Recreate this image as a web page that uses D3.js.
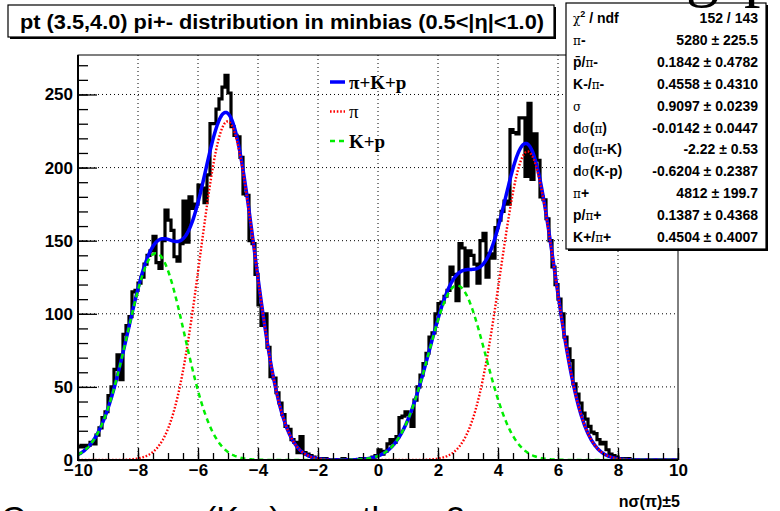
<!DOCTYPE html>
<html>
<head>
<meta charset="utf-8">
<script src="https://cdn.jsdelivr.net/npm/d3@7"></script>
<style>
  body { margin: 0; background: #fff; }
  svg { display: block; font-family: "Liberation Sans", Arial, Helvetica, sans-serif; }
</style>
</head>
<body>
<svg id="chart" width="780" height="511"></svg>
<script>
// ---- histogram: nσ(π)±5, 200 bins of 0.1 from -10 to 10 ----
const histLow = -10;
const histBinWidth = 0.1;
const histCounts = [
  9, 10, 9, 10, 12, 11, 17, 22, 29, 33, 44, 50, 62, 72, 55, 86, 92, 98, 115, 116,
  121, 125, 134, 140, 143, 153, 135, 131, 150, 171, 164, 157, 139, 136, 148, 177, 149, 180, 172, 175,
  188, 186, 176, 195, 230, 230, 240, 247, 255, 263, 251, 228, 222, 221, 207, 182, 181, 150, 148, 127,
  106, 92, 100, 77, 57, 56, 46, 39, 31, 23, 21, 14, 12, 5, 16, 5, 4, 3, 2, 1,
  1, 0, 1, 0, 0, 0, 0, 0, 1, 0, 0, 0, 0, 0, 1, 0, 1, 1, 2, 3,
  7, 4, 6, 11, 14, 12, 16, 29, 30, 33, 31, 23, 41, 50, 58, 66, 73, 84, 87, 100,
  107, 108, 112, 116, 132, 127, 109, 148, 145, 119, 143, 140, 134, 121, 150, 155, 125, 141, 138, 159,
  164, 170, 177, 175, 226, 224, 223, 234, 234, 194, 244, 192, 223, 205, 180, 178, 165, 150, 132, 120,
  110, 100, 84, 76, 68, 52, 45, 39, 32, 28, 23, 19, 18, 14, 11, 12, 7, 4, 3, 2,
  1, 1, 0, 1, 0, 0, 0, 0, 0, 0, 0, 0, 0, 0, 0, 0, 0, 0, 0, 0
];

// ---- fit result ----
const fitChi2 = 152;
const fitNdf = 143;
const paramLabels = ["π-", "p̄/π-", "K-/π-", "σ", "dσ(π)", "dσ(π-K)", "dσ(K-p)", "π+", "p/π+", "K+/π+"];
const paramValues = [5280, 0.1842, 0.4558, 0.9097, -0.0142, -2.22, -0.6204, 4812, 0.1387, 0.4504];
const paramErrors = [225.5, 0.4782, 0.4310, 0.0239, 0.0447, 0.53, 0.2387, 199.7, 0.4368, 0.4007];
const valueDigits = [0, 4, 4, 4, 4, 2, 4, 0, 4, 4];
const errorDigits = [1, 4, 4, 4, 4, 2, 4, 1, 4, 4];

// ---- axes ----
const xDomain = [-10, 10];
const yDomain = [0, 277];
const xMajorTicks = [-10, -8, -6, -4, -2, 0, 2, 4, 6, 8, 10];
const yMajorTicks = [0, 50, 100, 150, 200, 250];
const titleText = "pt (3.5,4.0) pi+- distribution in minbias (0.5<|η|<1.0)";
const xAxisTitle = "nσ(π)±5";
const legendLabels = ["π+K+p", "π", "K+p"];

const svg = d3.select("#chart");
const W = 780, H = 511;
const frame = { left: 78, right: 678, top: 55, bottom: 460 };

svg.append("rect").attr("width", W).attr("height", H).attr("fill", "#fff");

const x = d3.scaleLinear().domain(xDomain).range([frame.left, frame.right]);
const y = d3.scaleLinear().domain(yDomain).range([frame.bottom, frame.top]);

svg.append("defs").append("clipPath").attr("id", "frameClip")
  .append("rect")
  .attr("x", frame.left).attr("y", frame.top - 2)
  .attr("width", frame.right - frame.left).attr("height", frame.bottom - frame.top + 2);

// ---- grid ----
const grid = svg.append("g").attr("stroke", "#000").attr("stroke-width", 1)
  .attr("stroke-dasharray", "1,3").attr("fill", "none");
xMajorTicks.filter(v => v > xDomain[0] && v < xDomain[1]).forEach(v => {
  grid.append("line").attr("x1", x(v)).attr("x2", x(v))
    .attr("y1", frame.top).attr("y2", frame.bottom);
});
yMajorTicks.filter(v => v > 0).forEach(v => {
  grid.append("line").attr("x1", frame.left).attr("x2", frame.right)
    .attr("y1", y(v)).attr("y2", y(v));
});

// ---- fit functions ----
const [Nm, pRm, kRm, sigma, dPi, dPiK, dKp, Np, pRp, kRp] = paramValues;
const norm = histBinWidth / (sigma * Math.sqrt(2 * Math.PI));
const gauss = (v, mu, amp) => amp * Math.exp(-((v - mu) ** 2) / (2 * sigma * sigma));
const sides = [
  { offset: -5, N: Nm, pR: pRm, kR: kRm },
  { offset: 5, N: Np, pR: pRp, kR: kRp }
];
function pionPart(v) {
  return d3.sum(sides, s => gauss(v, s.offset + dPi, s.N * norm));
}
function kpPart(v) {
  return d3.sum(sides, s => {
    const muK = s.offset + dPi + dPiK;
    const muP = muK + dKp;
    return gauss(v, muK, s.N * s.kR * norm) + gauss(v, muP, s.N * s.pR * norm);
  });
}
const totalFit = v => pionPart(v) + kpPart(v);
const sampleV = d3.range(xDomain[0], xDomain[1] + 1e-9, 0.025);

// ---- histogram ----
const histPts = histCounts.map((c, i) => [histLow + i * histBinWidth, c]);
histPts.push([histLow + histCounts.length * histBinWidth, histCounts[histCounts.length - 1]]);
const plot = svg.append("g").attr("clip-path", "url(#frameClip)");
plot.append("path")
  .attr("d", d3.line().x(d => x(d[0])).y(d => y(d[1])).curve(d3.curveStepAfter)(histPts))
  .attr("fill", "none").attr("stroke", "#000").attr("stroke-width", 3.2)
  .attr("stroke-linejoin", "miter");

const fitLine = f => d3.line().x(v => x(v)).y(v => y(f(v)))(sampleV);
plot.append("path").attr("d", fitLine(totalFit))
  .attr("fill", "none").attr("stroke", "#0000ff").attr("stroke-width", 3.5);
plot.append("path").attr("d", fitLine(pionPart))
  .attr("fill", "none").attr("stroke", "#ff0000").attr("stroke-width", 2.4)
  .attr("stroke-dasharray", "1.6,1.8");
plot.append("path").attr("d", fitLine(kpPart))
  .attr("fill", "none").attr("stroke", "#00ee00").attr("stroke-width", 2.5)
  .attr("stroke-dasharray", "5,4");

// ---- axes ----
const fmt = d3.format("d");
svg.append("g").attr("transform", `translate(${frame.left},0)`)
  .call(d3.axisLeft(y).tickValues(yMajorTicks).tickSize(-19).tickPadding(5).tickFormat(fmt));
svg.append("g").attr("class", "minor").attr("transform", `translate(${frame.left},0)`)
  .call(d3.axisLeft(y).tickValues(d3.range(0, 271, 10)).tickSize(-10).tickFormat(""));
svg.append("g").attr("transform", `translate(0,${frame.bottom})`)
  .call(d3.axisBottom(x).tickValues(xMajorTicks).tickSize(-12).tickPadding(4).tickFormat(fmt));
svg.append("g").attr("class", "minor").attr("transform", `translate(0,${frame.bottom})`)
  .call(d3.axisBottom(x).tickValues(d3.range(-10, 10.01, 0.5)).tickSize(-7).tickFormat(""));
svg.selectAll(".domain").remove();
svg.selectAll(".minor .tick text").remove();
svg.selectAll(".tick line").attr("stroke", "#000").attr("stroke-width", 1.3);
svg.selectAll(".tick text").attr("fill", "#000")
  .style("font-family", "'Liberation Sans', Arial, sans-serif")
  .style("font-weight", "bold").style("font-size", "17px");

// ---- frame ----
svg.append("rect").attr("x", frame.left).attr("y", frame.top)
  .attr("width", frame.right - frame.left).attr("height", frame.bottom - frame.top)
  .attr("fill", "none").attr("stroke", "#000").attr("stroke-width", 1);
svg.append("line").attr("x1", frame.left).attr("x2", frame.left)
  .attr("y1", frame.top).attr("y2", frame.bottom + 1).attr("stroke", "#000").attr("stroke-width", 2);
svg.append("line").attr("x1", frame.left - 1).attr("x2", frame.right)
  .attr("y1", frame.bottom).attr("y2", frame.bottom).attr("stroke", "#000").attr("stroke-width", 2);

// ---- x axis title ----
svg.append("text").attr("x", 680).attr("y", 507).attr("text-anchor", "end")
  .style("font-weight", "bold").style("font-size", "16px").text(xAxisTitle);

// ---- legend ----
const legendStyles = [
  { color: "#0000ff", width: 3.5, dash: null },
  { color: "#ff0000", width: 2.4, dash: "1.6,1.8" },
  { color: "#00ee00", width: 2.5, dash: "5,4" }
];
const legend = svg.append("g").attr("transform", "translate(330,82)");
legendLabels.forEach((lab, i) => {
  const st = legendStyles[i];
  const gy = i * 29.5;
  legend.append("line").attr("x1", 0).attr("x2", 15).attr("y1", gy).attr("y2", gy)
    .attr("stroke", st.color).attr("stroke-width", st.width)
    .attr("stroke-dasharray", st.dash);
  legend.append("text").attr("x", 19).attr("y", gy + 6.5)
    .style("font-family", "'Liberation Serif', 'Times New Roman', serif")
    .style("font-weight", i === 1 ? "normal" : "bold")
    .style("font-size", "19px").text(lab);
});

// ---- title box ----
function paveBox(x0, y0, w, h) {
  svg.append("rect").attr("x", x0 + 2).attr("y", y0 + 2).attr("width", w).attr("height", h).attr("fill", "#000");
  svg.append("rect").attr("x", x0).attr("y", y0).attr("width", w).attr("height", h)
    .attr("fill", "#fff").attr("stroke", "#000").attr("stroke-width", 1.2);
}
paveBox(8, 5, 546, 32);
svg.append("text").attr("x", 282).attr("y", 29).attr("text-anchor", "middle")
  .attr("textLength", 524).attr("lengthAdjust", "spacingAndGlyphs")
  .style("font-weight", "bold").style("font-size", "20px").text(titleText);

// ---- stats box ----
paveBox(566, 3, 200, 246);
const greek = /[χπσ]/;
function richLabel(sel, str) {
  for (const ch of str) {
    const t = sel.append("tspan").text(ch);
    if (greek.test(ch)) t.style("font-weight", "normal").style("font-family", "'DejaVu Serif', serif").style("font-size", "12px");
  }
}
const statsRows = [];
statsRows.push({ label: null, value: `${fitChi2} / ${fitNdf}` });
paramLabels.forEach((lab, i) => {
  statsRows.push({
    label: lab,
    value: `${paramValues[i].toFixed(valueDigits[i])} ± ${paramErrors[i].toFixed(errorDigits[i])}`
  });
});
statsRows.forEach((r, i) => {
  const by = 23 + i * 21.9;
  const lt = svg.append("text").attr("x", 573).attr("y", by)
    .style("font-weight", "bold").style("font-size", "14px");
  if (r.label === null) {
    lt.append("tspan").text("χ").style("font-weight", "normal").style("font-family", "'DejaVu Serif', serif").style("font-size", "12px");
    lt.append("tspan").text("2").attr("dy", -6).style("font-size", "9px");
    lt.append("tspan").text(" / ndf").attr("dy", 6);
  } else {
    richLabel(lt, r.label);
  }
  svg.append("text").attr("x", 758).attr("y", by).attr("text-anchor", "end")
    .style("font-weight", "bold").style("font-size", "14px").text(r.value);
});

// ---- slide text around the figure (partly cut off by the page edges) ----
svg.append("text").attr("y", -6)
  .style("font-family", "'Liberation Serif', serif").style("font-size", "66px")
  .call(t => { t.append("tspan").attr("x", 686).text("g"); t.append("tspan").attr("x", 744).text("p"); });
svg.append("text").attr("y", 530)
  .style("font-size", "34px")
  .call(t => {
    t.append("tspan").attr("x", 1).text("Co");
    t.append("tspan").attr("x", 205).text("(K-p)");
    t.append("tspan").attr("x", 362).text("th");
    t.append("tspan").attr("x", 446).text("2");
  });
</script>
</body>
</html>
